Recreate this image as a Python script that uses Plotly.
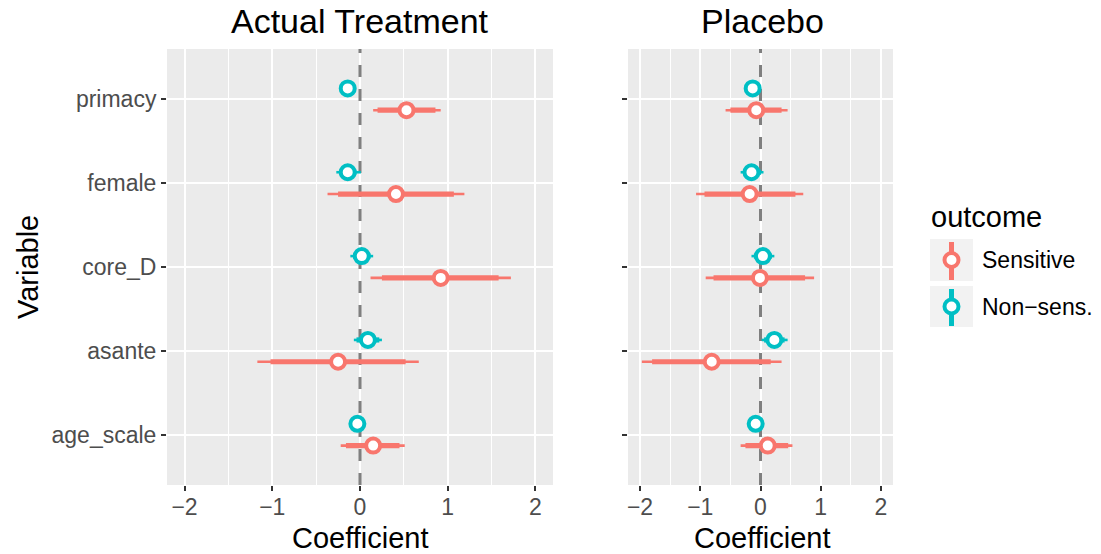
import plotly.graph_objects as go

W, H = 1101, 554

# ---- data -------------------------------------------------------------
variables = ["age_scale", "asante", "core_D", "female", "primacy"]
outcomes = ["Sensitive", "Non−sens."]
panels = ["Actual Treatment", "Placebo"]

# Actual Treatment, Sensitive
act_sens_est = [0.15, -0.25, 0.92, 0.41, 0.53]
act_sens_lo_outer = [-0.22, -1.17, 0.12, -0.37, 0.15]
act_sens_hi_outer = [0.51, 0.67, 1.72, 1.19, 0.92]
act_sens_lo_inner = [-0.16, -1.02, 0.25, -0.25, 0.20]
act_sens_hi_inner = [0.45, 0.52, 1.58, 1.07, 0.86]

# Actual Treatment, Non-sensitive
act_non_est = [-0.03, 0.09, 0.02, -0.14, -0.14]
act_non_lo_outer = [-0.09, -0.07, -0.11, -0.27, -0.20]
act_non_hi_outer = [0.03, 0.25, 0.15, 0.01, -0.08]
act_non_lo_inner = [-0.07, -0.04, -0.08, -0.24, -0.18]
act_non_hi_inner = [0.01, 0.22, 0.12, -0.04, -0.10]

# Placebo, Sensitive
pla_sens_est = [0.12, -0.81, -0.01, -0.18, -0.07]
pla_sens_lo_outer = [-0.33, -1.97, -0.91, -1.07, -0.58]
pla_sens_hi_outer = [0.53, 0.35, 0.89, 0.71, 0.45]
pla_sens_lo_inner = [-0.25, -1.80, -0.78, -0.93, -0.50]
pla_sens_hi_inner = [0.46, 0.17, 0.74, 0.58, 0.35]

# Placebo, Non-sensitive
pla_non_est = [-0.08, 0.23, 0.04, -0.15, -0.13]
pla_non_lo_outer = [-0.14, 0.02, -0.15, -0.33, -0.19]
pla_non_hi_outer = [-0.02, 0.45, 0.23, 0.05, -0.07]
pla_non_lo_inner = [-0.12, 0.06, -0.11, -0.29, -0.17]
pla_non_hi_inner = [-0.04, 0.40, 0.19, 0.01, -0.09]

x_ticks = [-2, -1, 0, 1, 2]

# ---- styling ----------------------------------------------------------
colors = {"Sensitive": "#F8766D", "Non−sens.": "#00BFC4"}
dodge = {"Sensitive": -0.13, "Non−sens.": 0.13}
FONT = "Liberation Sans, Arial, Helvetica, sans-serif"

series = {
    ("Actual Treatment", "Sensitive"): (act_sens_est, act_sens_lo_outer, act_sens_hi_outer,
                                        act_sens_lo_inner, act_sens_hi_inner),
    ("Actual Treatment", "Non−sens."): (act_non_est, act_non_lo_outer, act_non_hi_outer,
                                        act_non_lo_inner, act_non_hi_inner),
    ("Placebo", "Sensitive"): (pla_sens_est, pla_sens_lo_outer, pla_sens_hi_outer,
                               pla_sens_lo_inner, pla_sens_hi_inner),
    ("Placebo", "Non−sens."): (pla_non_est, pla_non_lo_outer, pla_non_hi_outer,
                               pla_non_lo_inner, pla_non_hi_inner),
}


def px_x(p):
    return p / W


def px_y(p):
    return 1 - p / H


axis_refs = {"Actual Treatment": ("x", "y"), "Placebo": ("x2", "y2")}
y_positions = list(range(1, len(variables) + 1))
Y_RANGE = [0.4, len(variables) + 0.6]

fig = go.Figure()

for panel in panels:
    xr, yr = axis_refs[panel]
    # reference line at zero
    fig.add_trace(go.Scatter(
        x=[0, 0], y=Y_RANGE, mode="lines", xaxis=xr, yaxis=yr,
        line=dict(color="#7F7F7F", width=3, dash="12px,12px"),
        showlegend=False, hoverinfo="skip"))

    for outcome in outcomes:
        est, lo_o, hi_o, lo_i, hi_i = series[(panel, outcome)]
        ys = [p + dodge[outcome] for p in y_positions]
        for lo, hi, width in ((lo_o, hi_o, 2.6), (lo_i, hi_i, 5.2)):
            xs, yy = [], []
            for a, b, y in zip(lo, hi, ys):
                xs += [a, b, None]
                yy += [y, y, None]
            fig.add_trace(go.Scatter(
                x=xs, y=yy, mode="lines", xaxis=xr, yaxis=yr,
                line=dict(color=colors[outcome], width=width),
                showlegend=False, hoverinfo="skip"))

    for outcome in outcomes:
        est = series[(panel, outcome)][0]
        ys = [p + dodge[outcome] for p in y_positions]
        fig.add_trace(go.Scatter(
            x=est, y=ys, mode="markers", xaxis=xr, yaxis=yr, name=outcome,
            marker=dict(size=14, color="white",
                        line=dict(color=colors[outcome], width=4)),
            showlegend=False))

x_axis_style = dict(
    range=[-2.2, 2.2], tickvals=x_ticks, ticks="outside", ticklen=5, tickwidth=2,
    tickcolor="#333333", tickfont=dict(family=FONT, size=23, color="#4D4D4D"),
    ticklabelstandoff=-4,
    showgrid=True, gridcolor="white", gridwidth=2.4, zeroline=False,
    minor=dict(dtick=0.5, showgrid=True, gridcolor="white", gridwidth=1.2),
    showline=False, fixedrange=True,
)
y_axis_style = dict(
    range=Y_RANGE, tickvals=y_positions, ticktext=variables, ticks="outside",
    ticklen=5, tickwidth=2, tickcolor="#333333",
    tickfont=dict(family=FONT, size=23, color="#4D4D4D"),
    showgrid=True, gridcolor="white", gridwidth=2.4, zeroline=False,
    showline=False, fixedrange=True,
)

y_dom = [px_y(485), px_y(49)]

fig.update_layout(
    width=W, height=H, margin=dict(l=0, r=0, t=0, b=0),
    paper_bgcolor="white", plot_bgcolor="#EBEBEB",
    font=dict(family=FONT, color="black"),
    showlegend=False,
    xaxis=dict(domain=[px_x(167), px_x(553)], anchor="y", **x_axis_style),
    yaxis=dict(domain=y_dom, anchor="x", **y_axis_style),
    xaxis2=dict(domain=[px_x(628), px_x(893)], anchor="y2", **x_axis_style),
    yaxis2=dict(domain=y_dom, anchor="x2", showticklabels=False, **y_axis_style),
)

annotations = []
# panel titles
for panel, cx in (("Actual Treatment", 360), ("Placebo", 762)):
    annotations.append(dict(text=panel, x=px_x(cx), y=px_y(21), xref="paper", yref="paper",
                            xanchor="center", yanchor="middle", showarrow=False,
                            font=dict(family=FONT, size=34, color="black")))
# x-axis titles
for cx in (360, 762):
    annotations.append(dict(text="Coefficient", x=px_x(cx), y=px_y(538), xref="paper",
                            yref="paper", xanchor="center", yanchor="middle",
                            showarrow=False,
                            font=dict(family=FONT, size=29, color="black")))
# y-axis title
annotations.append(dict(text="Variable", x=px_x(28), y=px_y(267), xref="paper", yref="paper",
                        xanchor="center", yanchor="middle", textangle=-90, showarrow=False,
                        font=dict(family=FONT, size=29, color="black")))

# legend drawn by hand so the key glyph is a vertical point-range
annotations.append(dict(text="outcome", x=px_x(929), y=px_y(217), xref="paper", yref="paper",
                        xanchor="left", yanchor="middle", showarrow=False,
                        font=dict(family=FONT, size=29, color="black")))
shapes = []
key_boxes = {"Sensitive": (239, 281), "Non−sens.": (286, 327)}
for outcome in outcomes:
    top, bot = key_boxes[outcome]
    cy = (top + bot) / 2
    cx = 951.5
    shapes.append(dict(type="rect", xref="paper", yref="paper",
                       x0=px_x(930), x1=px_x(973), y0=px_y(bot), y1=px_y(top),
                       fillcolor="#F2F2F2", line=dict(width=0), layer="above"))
    shapes.append(dict(type="line", xref="paper", yref="paper",
                       x0=px_x(cx), x1=px_x(cx), y0=px_y(bot - 1), y1=px_y(top + 3),
                       line=dict(color=colors[outcome], width=5), layer="above"))
    shapes.append(dict(type="circle", xref="paper", yref="paper",
                       x0=px_x(cx - 7), x1=px_x(cx + 7), y0=px_y(cy + 7), y1=px_y(cy - 7),
                       fillcolor="white", line=dict(color=colors[outcome], width=4),
                       layer="above"))
    annotations.append(dict(text=outcome, x=px_x(980), y=px_y(cy), xref="paper", yref="paper",
                            xanchor="left", yanchor="middle", showarrow=False,
                            font=dict(family=FONT, size=23, color="black")))

fig.update_layout(annotations=annotations, shapes=shapes)

fig.write_html("out.html")
